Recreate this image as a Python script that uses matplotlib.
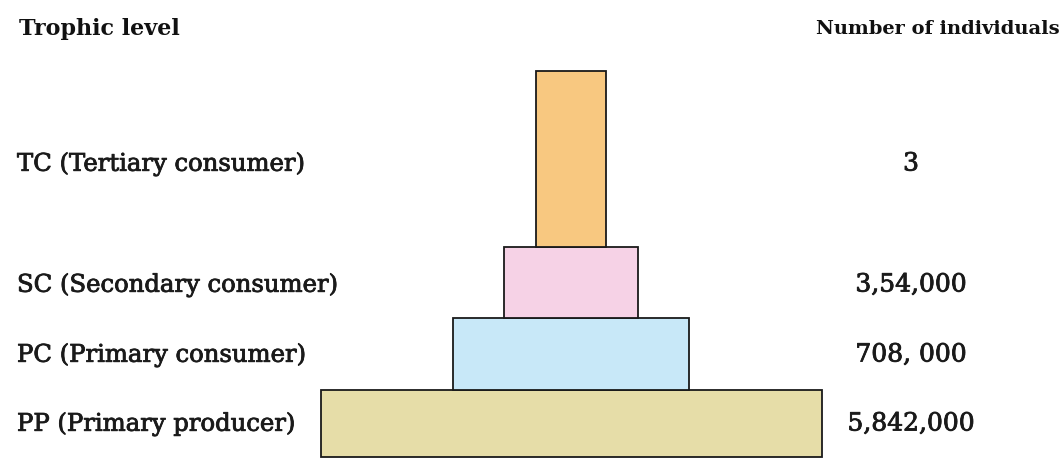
import matplotlib
matplotlib.use("Agg")
import matplotlib.pyplot as plt
import matplotlib.patheffects as pe

# ---- data ----
levels = ["TC (Tertiary consumer)", "SC (Secondary consumer)",
          "PC (Primary consumer)", "PP (Primary producer)"]
counts = ["3", "3,54,000", "708, 000", "5,842,000"]
# schematic layer sizes (pyramid drawing units)
layer_widths = [70, 134, 236, 501]
layer_heights = [176, 71, 72, 67]
layer_colors = ["#F8C880", "#F6D2E6", "#C8E8F8", "#E6DDA8"]
header_left = "Trophic level"
header_right = "Number of individuals"

W, H = 1064, 459
fig = plt.figure(figsize=(W / 100, H / 100), dpi=100)
ax = fig.add_axes([0, 0, 1, 1])
ax.set_xlim(0, W)
ax.set_ylim(H, 0)
ax.axis("off")

center_x = 571
base_y = 457
font = "DejaVu Serif"
heavy = [pe.withStroke(linewidth=0.6, foreground="#1a1a1a")]

# stack layers from the bottom (PP) upwards
bottom = base_y
for w, h, c in zip(layer_widths[::-1], layer_heights[::-1], layer_colors[::-1]):
    ax.bar(center_x, -h, width=w, bottom=bottom, color=c,
           edgecolor="#1a1a1a", linewidth=1.3, zorder=2)
    bottom -= h

label_y = [164, 285, 355, 424]
for lab, cnt, y in zip(levels, counts, label_y):
    ax.text(17, y, lab, family=font, fontsize=17.5, color="#1a1a1a",
            ha="left", va="center", path_effects=heavy)
    ax.text(911, y, cnt, family=font, fontsize=18, color="#1a1a1a",
            ha="center", va="center", path_effects=heavy)

ax.text(19, 29, header_left, family=font, fontsize=16, fontweight="bold",
        color="#111111", ha="left", va="center")
ax.text(1060, 29, header_right, family=font, fontsize=14, fontweight="bold",
        color="#111111", ha="right", va="center")

fig.savefig("out.png", dpi=100, facecolor="white")
